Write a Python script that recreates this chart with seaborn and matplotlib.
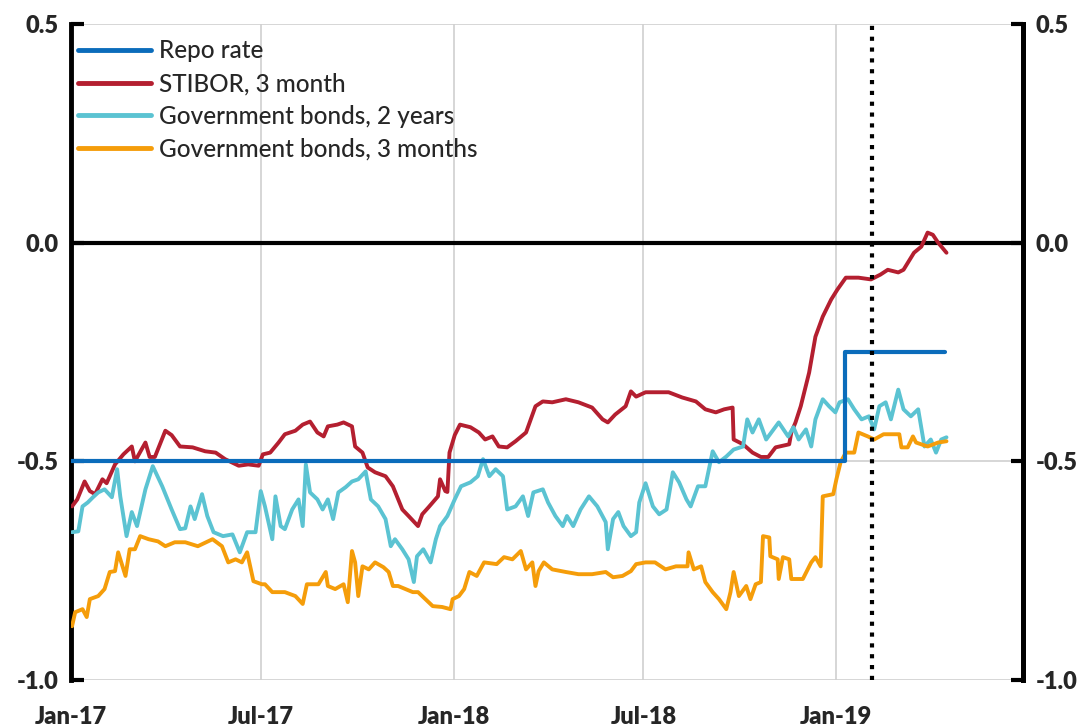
import numpy as np
import pandas as pd
import matplotlib
matplotlib.use("Agg")
import matplotlib.pyplot as plt
import seaborn as sns

START = "2017-01-01"

# ---- data (day offsets from 2017-01-01, percent) ----
repo_days = [0, 737, 738, 834]
repo_vals = [-0.50, -0.50, -0.25, -0.25]

stibor_days = [1, 6, 13, 18, 23, 30, 34, 42, 50, 58, 61, 71, 75, 80, 90, 96, 104, 116, 128, 138,
               147, 160, 169, 179, 183, 190, 198, 204, 214, 221, 228, 235, 241, 245, 254, 260, 268,
               271, 278, 283, 290, 300, 307, 316, 322, 331, 335, 341, 350, 352, 357, 359, 361, 366,
               371, 381, 389, 395, 402, 408, 416, 424, 434, 443, 450, 459, 472, 484, 497, 507, 512,
               519, 529, 534, 539, 548, 555, 570, 583, 596, 605, 615, 623, 631, 632, 641, 650, 658,
               665, 672, 685, 687, 691, 696, 704, 710, 717, 725, 731, 739, 751, 763, 772, 779, 789,
               794, 804, 811, 817, 822, 827, 835]
stibor_vals = [-0.603, -0.587, -0.546, -0.568, -0.575, -0.541, -0.55, -0.507, -0.484, -0.466, -0.50,
               -0.457, -0.49, -0.49, -0.43, -0.44, -0.466, -0.468, -0.477, -0.48, -0.495, -0.51,
               -0.507, -0.51, -0.484, -0.48, -0.457, -0.438, -0.43, -0.416, -0.409, -0.434, -0.443,
               -0.42, -0.416, -0.411, -0.42, -0.466, -0.48, -0.514, -0.525, -0.534, -0.557, -0.61,
               -0.625, -0.648, -0.621, -0.605, -0.58, -0.541, -0.568, -0.57, -0.48, -0.44, -0.416,
               -0.422, -0.434, -0.45, -0.443, -0.466, -0.468, -0.454, -0.434, -0.374, -0.363, -0.365,
               -0.358, -0.365, -0.377, -0.404, -0.411, -0.393, -0.374, -0.34, -0.352, -0.342, -0.342,
               -0.342, -0.354, -0.363, -0.381, -0.388, -0.381, -0.377, -0.45, -0.461, -0.48, -0.49,
               -0.49, -0.468, -0.461, -0.434, -0.411, -0.374, -0.297, -0.215, -0.169, -0.13, -0.107,
               -0.08, -0.08, -0.084, -0.073, -0.062, -0.068, -0.062, -0.023, -0.009, 0.023, 0.018,
               0.0, -0.023]

gov2y_days = [1, 7, 11, 16, 21, 26, 32, 39, 44, 47, 53, 58, 63, 71, 78, 87, 96, 104, 109, 114, 118,
              125, 130, 136, 145, 154, 161, 168, 176, 181, 185, 192, 195, 200, 204, 211, 217, 221,
              224, 228, 235, 240, 245, 250, 255, 262, 268, 274, 281, 286, 293, 300, 305, 309, 316,
              322, 327, 330, 336, 343, 348, 352, 359, 366, 372, 381, 388, 393, 399, 405, 412, 416,
              424, 431, 436, 441, 450, 455, 462, 469, 473, 479, 486, 494, 502, 510, 512, 517, 522,
              527, 534, 539, 542, 548, 555, 561, 568, 574, 580, 587, 591, 598, 605, 612, 618, 625,
              632, 641, 645, 650, 656, 663, 670, 675, 684, 689, 694, 701, 706, 710, 717, 723, 729,
              733, 741, 747, 754, 761, 766, 771, 777, 782, 789, 794, 801, 808, 814, 820, 825, 830,
              835]
gov2y_vals = [-0.662, -0.66, -0.603, -0.594, -0.582, -0.571, -0.564, -0.582, -0.518, -0.58, -0.671,
              -0.616, -0.648, -0.564, -0.511, -0.557, -0.61, -0.655, -0.653, -0.603, -0.632, -0.575,
              -0.625, -0.662, -0.671, -0.667, -0.708, -0.662, -0.662, -0.568, -0.603, -0.678, -0.58,
              -0.648, -0.655, -0.61, -0.587, -0.648, -0.507, -0.571, -0.587, -0.61, -0.587, -0.632,
              -0.571, -0.559, -0.546, -0.541, -0.523, -0.587, -0.603, -0.632, -0.694, -0.678, -0.701,
              -0.724, -0.776, -0.717, -0.701, -0.731, -0.678, -0.648, -0.625, -0.587, -0.557, -0.548,
              -0.534, -0.495, -0.534, -0.518, -0.534, -0.61, -0.603, -0.58, -0.625, -0.571, -0.564,
              -0.594, -0.625, -0.648, -0.625, -0.648, -0.61, -0.58, -0.603, -0.639, -0.701, -0.632,
              -0.616, -0.648, -0.671, -0.662, -0.594, -0.55, -0.603, -0.621, -0.61, -0.525, -0.548,
              -0.587, -0.603, -0.557, -0.557, -0.477, -0.502, -0.489, -0.473, -0.466, -0.404, -0.434,
              -0.404, -0.45, -0.427, -0.411, -0.443, -0.422, -0.45, -0.427, -0.466, -0.404, -0.358,
              -0.374, -0.388, -0.365, -0.358, -0.381, -0.404, -0.397, -0.427, -0.374, -0.365, -0.404,
              -0.336, -0.381, -0.397, -0.381, -0.466, -0.45, -0.48, -0.45, -0.445]

gov3m_days = [1, 4, 11, 15, 18, 26, 32, 37, 42, 45, 52, 56, 61, 66, 74, 83, 90, 99, 109, 121, 135,
              144, 150, 157, 163, 168, 174, 182, 185, 192, 204, 214, 221, 225, 236, 243, 245, 252,
              260, 264, 268, 271, 274, 278, 284, 290, 298, 303, 307, 312, 319, 326, 331, 338, 345,
              354, 362, 364, 370, 375, 380, 387, 394, 406, 413, 421, 429, 434, 440, 443, 446, 451,
              459, 472, 484, 497, 510, 517, 526, 534, 539, 548, 557, 567, 577, 588, 589, 594, 601,
              605, 612, 618, 625, 629, 632, 637, 644, 648, 653, 658, 660, 666, 667, 674, 675, 679,
              685, 687, 698, 706, 710, 715, 717, 727, 730, 734, 739, 747, 751, 760, 766, 775, 785,
              790, 792, 798, 803, 806, 817, 827, 835]
gov3m_vals = [-0.877, -0.845, -0.838, -0.856, -0.815, -0.808, -0.792, -0.753, -0.751, -0.708, -0.762,
              -0.701, -0.701, -0.671, -0.678, -0.683, -0.694, -0.685, -0.685, -0.694, -0.678, -0.694,
              -0.731, -0.724, -0.731, -0.708, -0.774, -0.781, -0.781, -0.799, -0.799, -0.808, -0.826,
              -0.781, -0.781, -0.753, -0.785, -0.792, -0.781, -0.822, -0.705, -0.731, -0.808, -0.74,
              -0.747, -0.731, -0.742, -0.753, -0.785, -0.785, -0.792, -0.799, -0.799, -0.815, -0.831,
              -0.833, -0.838, -0.815, -0.808, -0.792, -0.753, -0.762, -0.731, -0.735, -0.719, -0.724,
              -0.705, -0.747, -0.731, -0.785, -0.751, -0.731, -0.747, -0.753, -0.758, -0.758, -0.753,
              -0.765, -0.762, -0.751, -0.735, -0.731, -0.731, -0.747, -0.74, -0.74, -0.708, -0.747,
              -0.74, -0.776, -0.799, -0.815, -0.838, -0.799, -0.753, -0.808, -0.785, -0.815, -0.781,
              -0.776, -0.671, -0.674, -0.717, -0.724, -0.769, -0.719, -0.724, -0.769, -0.769, -0.731,
              -0.719, -0.74, -0.58, -0.575, -0.541, -0.502, -0.48, -0.48, -0.434, -0.443, -0.45,
              -0.438, -0.438, -0.438, -0.468, -0.468, -0.443, -0.457, -0.466, -0.457, -0.454]

series_names = ["Repo rate", "STIBOR, 3 month", "Government bonds, 2 years", "Government bonds, 3 months"]
series_colors = ["#0b6cbb", "#b41f30", "#5bc3d2", "#f59d0a"]
y_ticks = [-1.0, -0.5, 0.0, 0.5]
x_tick_dates = ["2017-01-01", "2017-07-01", "2018-01-01", "2018-07-01", "2019-01-01"]
x_tick_labels = ["Jan-17", "Jul-17", "Jan-18", "Jul-18", "Jan-19"]
marker_date = "2019-02-04"
x_end = "2019-06-28"

def to_dates(days):
    return pd.Timestamp(START) + pd.to_timedelta(days, unit="D")

frames = []
for name, d, v in [(series_names[1], stibor_days, stibor_vals),
                   (series_names[2], gov2y_days, gov2y_vals),
                   (series_names[3], gov3m_days, gov3m_vals)]:
    frames.append(pd.DataFrame({"date": to_dates(d), "value": v, "series": name}))
df = pd.concat(frames, ignore_index=True)
repo_df = pd.DataFrame({"date": to_dates(repo_days), "value": repo_vals, "series": series_names[0]})

sns.set_theme(style="white")
plt.rcParams["font.family"] = ["Lato", "DejaVu Sans"]

fig = plt.figure(figsize=(10.82, 7.27), dpi=100)
ax = fig.add_axes([0.0656, 0.0646, 0.8799, 0.9024])

# grid
for d in x_tick_dates:
    ax.axvline(pd.Timestamp(d), color="#d0d0d0", lw=1.2, zorder=0)
for yv in [-1.0, -0.5, 0.5]:
    ax.axhline(yv, color="#d0d0d0", lw=1.2, zorder=0)
ax.axhline(0.0, color="black", lw=3, zorder=1)

sns.lineplot(data=repo_df, x="date", y="value", ax=ax, color=series_colors[0], lw=3,
             drawstyle="steps-post", label=series_names[0], zorder=5)
sns.lineplot(data=df, x="date", y="value", hue="series", hue_order=series_names[1:],
             palette=series_colors[1:], ax=ax, lw=2.8, zorder=3)

ax.axvline(pd.Timestamp(marker_date), color="black", lw=3, linestyle=(0, (1, 1.6)), zorder=6)

ax.set_xlim(pd.Timestamp(START), pd.Timestamp(x_end))
ax.set_ylim(-1.0, 0.5)
ax.set_xlabel("")
ax.set_ylabel("")

tick_font = dict(fontsize=17, fontweight="heavy")
ax.set_xticks([pd.Timestamp(d) for d in x_tick_dates])
ax.set_xticklabels(x_tick_labels, **tick_font)
ax.tick_params(axis="x", direction="out", length=5, width=1.2, color="#d0d0d0", pad=14)

ax.set_yticks(y_ticks)
ax.set_yticklabels([f"{t:.1f}" for t in y_ticks], **tick_font)
ax.tick_params(axis="y", direction="in", length=9, width=3, color="black", pad=9)

for s in ["top", "bottom"]:
    ax.spines[s].set_visible(False)
ax.spines["left"].set_color("black")
ax.spines["left"].set_linewidth(3.5)
ax.spines["right"].set_color("black")
ax.spines["right"].set_linewidth(3.5)

ax2 = ax.twinx()
ax2.set_ylim(-1.0, 0.5)
ax2.set_yticks(y_ticks)
ax2.set_yticklabels([f"{t:.1f}" for t in y_ticks], **tick_font)
ax2.tick_params(axis="y", direction="in", length=9, width=3, color="black", pad=9)
for s in ["top", "bottom", "left"]:
    ax2.spines[s].set_visible(False)
ax2.spines["right"].set_color("black")
ax2.spines["right"].set_linewidth(3.5)
ax2.grid(False)

handles, labels = ax.get_legend_handles_labels()
order = [labels.index(n) for n in series_names]
leg = ax.legend([handles[i] for i in order], [labels[i] for i in order], loc="upper left",
                bbox_to_anchor=(0.002, 0.984), frameon=False,
                prop={"size": 17.5, "weight": "medium"}, handlelength=3.0,
                handletextpad=0.35, labelspacing=0.4, borderaxespad=0.0, borderpad=0.2)
for h in leg.get_lines():
    h.set_linewidth(3.5)

fig.savefig("out.png", dpi=100)
